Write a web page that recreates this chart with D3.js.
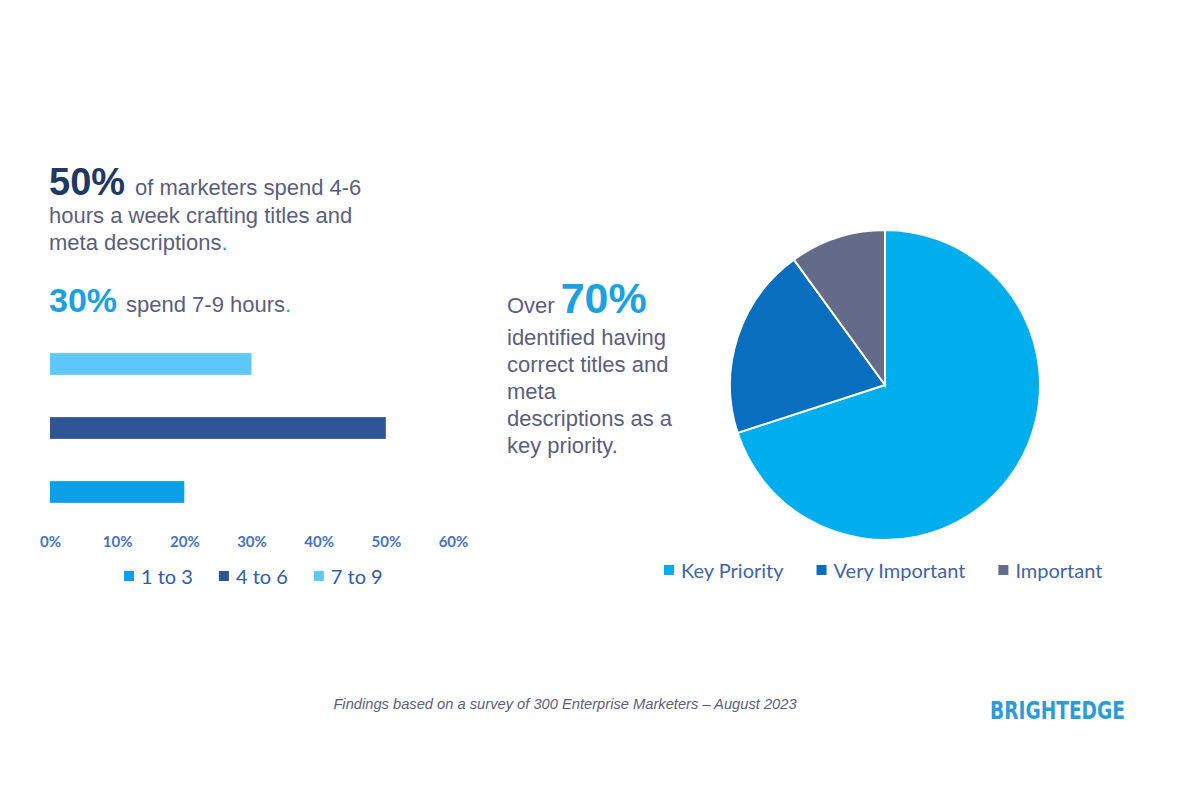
<!DOCTYPE html>
<html>
<head>
<meta charset="utf-8">
<script src="https://cdn.jsdelivr.net/npm/d3@7"></script>
<style>
  body { margin: 0; background: #fff; }
  svg { display: block; }
</style>
</head>
<body>
<div id="chart"></div>
<script>
// Hours per week spent crafting titles / meta descriptions
const hourGroups = ["1 to 3", "4 to 6", "7 to 9"];
const hourShares = [20, 50, 30];
const hourColors = ["#0A9FE6", "#2F5597", "#5EC8FC"];
const xTicks = [0, 10, 20, 30, 40, 50, 60];

// Importance of correct titles and meta descriptions
const priorityLabels = ["Key Priority", "Very Important", "Important"];
const priorityShares = [70, 20, 10];
const priorityColors = ["#00AEEE", "#0A6EBF", "#636B88"];

const width = 1200, height = 801;
const textGray = "#5A5E7E";

const svg = d3.select("#chart").append("svg")
    .attr("width", width)
    .attr("height", height);

// --- Left headline text ---
const head = svg.append("g").style("font-family", "'Liberation Sans', Arial, sans-serif");

const l1 = head.append("text").attr("x", 49).attr("y", 195).attr("fill", textGray).style("font-size", "22px");
l1.append("tspan").attr("fill", "#1F3864").style("font-size", "38px").style("font-weight", "bold").text("50%");
l1.append("tspan").attr("dx", 10).text("of marketers spend 4-6");
head.append("text").attr("x", 49).attr("y", 223).attr("fill", textGray).style("font-size", "22px")
    .text("hours a week crafting titles and");
const l3 = head.append("text").attr("x", 49).attr("y", 250).attr("fill", textGray).style("font-size", "22px");
l3.append("tspan").text("meta descriptions");
l3.append("tspan").attr("fill", "#1BA1E2").text(".");

const l4 = head.append("text").attr("x", 49).attr("y", 312).attr("fill", textGray).style("font-size", "22px");
l4.append("tspan").attr("fill", "#1BA1E2").style("font-size", "34px").style("font-weight", "bold").text("30%");
l4.append("tspan").attr("dx", 9).text("spend 7-9 hours");
l4.append("tspan").attr("fill", "#1BA1E2").text(".");

// --- Horizontal bar chart ---
const x = d3.scaleLinear().domain([0, 60]).range([50, 453]);
const barOrder = hourGroups.slice().reverse(); // top bar = 7 to 9
const y = d3.scaleBand().domain(barOrder).range([332, 524]).paddingInner(0.66).paddingOuter(0.33);

svg.append("g").selectAll("rect")
    .data(hourGroups.map((g, i) => ({ g, v: hourShares[i], c: hourColors[i] })))
    .join("rect")
    .attr("x", x(0))
    .attr("y", d => y(d.g))
    .attr("width", d => x(d.v) - x(0))
    .attr("height", y.bandwidth())
    .attr("fill", d => d.c);

const xAxis = svg.append("g")
    .attr("transform", "translate(0,547)")
    .call(d3.axisBottom(x).tickValues(xTicks).tickFormat(d => d + "%").tickSize(0).tickPadding(0));
xAxis.select(".domain").remove();
xAxis.selectAll("text")
    .attr("dy", 0)
    .attr("fill", "#4472C4")
    .style("font-family", "Lato, 'Open Sans', sans-serif")
    .style("font-weight", "bold")
    .style("font-size", "15px");

// legend
function drawLegend(parent, labels, colors, x0, yBase, gap, size, fontSize, color) {
    const g = parent.append("g").style("font-family", "Lato, 'Open Sans', sans-serif");
    let cx = x0;
    labels.forEach((lab, i) => {
        g.append("rect").attr("x", cx).attr("y", yBase - size - 3).attr("width", size).attr("height", size)
            .attr("fill", colors[i]);
        const t = g.append("text").attr("x", cx + size + 7).attr("y", yBase)
            .attr("fill", color).style("font-size", fontSize + "px").text(lab);
        cx += size + 7 + t.node().getComputedTextLength() + gap;
    });
}
drawLegend(svg, hourGroups, hourColors, 124, 584, 26, 10, 20, "#2F5DA8");

// --- Right callout text ---
const right = svg.append("g").style("font-family", "'Liberation Sans', Arial, sans-serif");
const r1 = right.append("text").attr("x", 507).attr("y", 313).attr("fill", textGray).style("font-size", "22px");
r1.append("tspan").text("Over");
r1.append("tspan").attr("dx", 6).attr("fill", "#1BA1E2").style("font-size", "43px").style("font-weight", "bold").text("70%");
["identified having", "correct titles and", "meta", "descriptions as a", "key priority."].forEach((s, i) => {
    right.append("text").attr("x", 507).attr("y", 345 + i * 27).attr("fill", textGray)
        .style("font-size", "22px").text(s);
});

// --- Pie chart ---
const pieData = priorityLabels.map((l, i) => ({ l, v: priorityShares[i], c: priorityColors[i] }));
const pie = d3.pie().value(d => d.v).sort(null);
const arc = d3.arc().innerRadius(0).outerRadius(155);
svg.append("g")
    .attr("transform", "translate(885,385)")
    .selectAll("path")
    .data(pie(pieData))
    .join("path")
    .attr("d", arc)
    .attr("fill", d => d.data.c)
    .attr("stroke", "#fff")
    .attr("stroke-width", 2);

drawLegend(svg, priorityLabels, priorityColors, 664, 578, 33, 10, 20, "#3E64B0");

// --- Footer ---
svg.append("text")
    .attr("x", 565).attr("y", 709)
    .attr("text-anchor", "middle")
    .attr("fill", textGray)
    .style("font-family", "'Liberation Sans', Arial, sans-serif")
    .style("font-style", "italic")
    .style("font-size", "14.7px")
    .text("Findings based on a survey of 300 Enterprise Marketers \u2013 August 2023");

svg.append("text")
    .attr("x", 990).attr("y", 719)
    .attr("fill", "#2C9BD8")
    .attr("textLength", 135)
    .attr("lengthAdjust", "spacingAndGlyphs")
    .style("font-family", "'Liberation Sans Narrow', 'DejaVu Sans Condensed', sans-serif")
    .style("font-weight", "bold")
    .style("font-size", "25px")
    .text("BRIGHTEDGE");
</script>
</body>
</html>
